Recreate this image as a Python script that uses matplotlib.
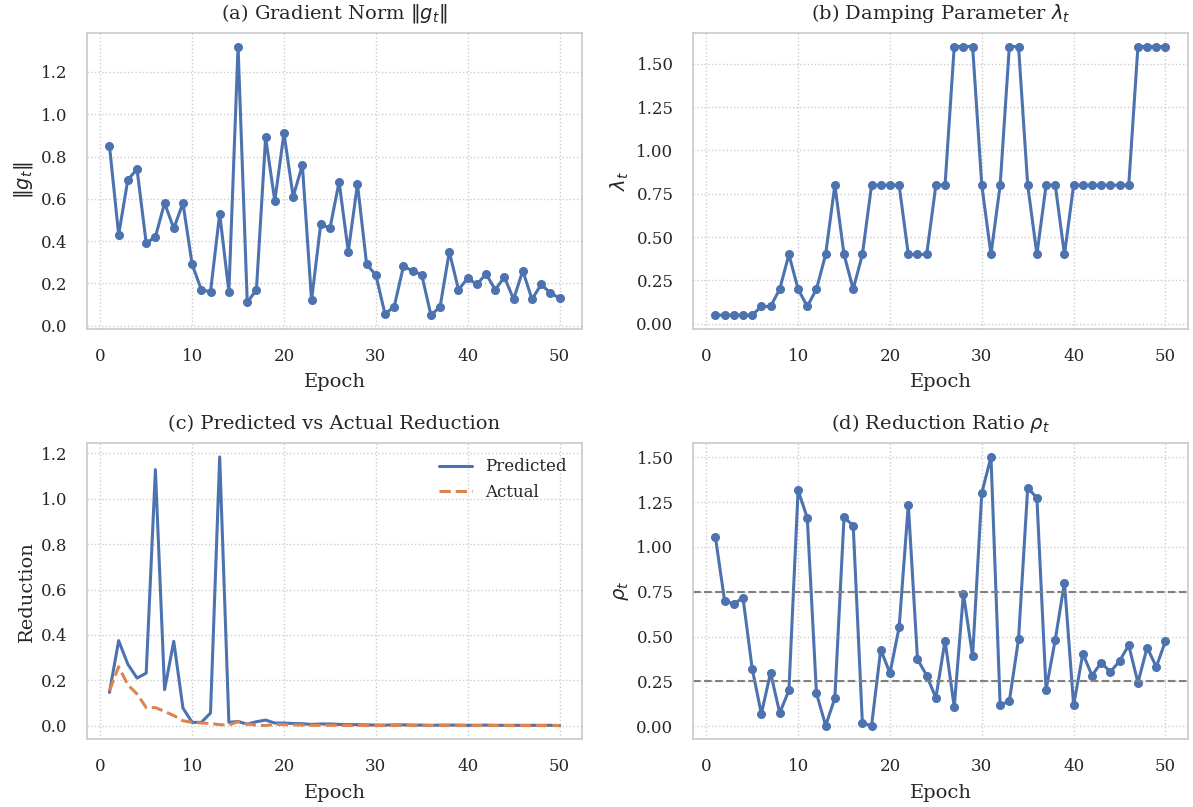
import matplotlib
matplotlib.use('Agg')
import matplotlib.pyplot as plt
import numpy as np
import seaborn as sns

epochs = np.arange(1, 51)

grad_norm = [0.85, 0.43, 0.69, 0.74, 0.39, 0.42, 0.58, 0.46, 0.58, 0.29,
             0.17, 0.16, 0.53, 0.16, 1.32, 0.11, 0.17, 0.89, 0.59, 0.91,
             0.61, 0.76, 0.12, 0.48, 0.46, 0.68, 0.35, 0.67, 0.29, 0.24,
             0.055, 0.09, 0.28, 0.26, 0.24, 0.05, 0.09, 0.35, 0.17, 0.225,
             0.195, 0.245, 0.17, 0.23, 0.125, 0.26, 0.125, 0.195, 0.155, 0.13]

damping = [0.05, 0.05, 0.05, 0.05, 0.05, 0.1, 0.1, 0.2, 0.4, 0.2,
           0.1, 0.2, 0.4, 0.8, 0.4, 0.2, 0.4, 0.8, 0.8, 0.8,
           0.8, 0.4, 0.4, 0.4, 0.8, 0.8, 1.6, 1.6, 1.6, 0.8,
           0.4, 0.8, 1.6, 1.6, 0.8, 0.4, 0.8, 0.8, 0.4, 0.8,
           0.8, 0.8, 0.8, 0.8, 0.8, 0.8, 1.6, 1.6, 1.6, 1.6]

predicted = [0.147, 0.375, 0.271, 0.21, 0.232, 1.128, 0.159, 0.372, 0.078, 0.015,
             0.015, 0.056, 1.184, 0.015, 0.019, 0.007, 0.018, 0.025, 0.012, 0.012,
             0.01, 0.009, 0.006, 0.008, 0.008, 0.006, 0.005, 0.005, 0.004, 0.003,
             0.003, 0.004, 0.004, 0.003, 0.003, 0.002, 0.003, 0.003, 0.003, 0.002,
             0.002, 0.003, 0.002, 0.002, 0.002, 0.002, 0.002, 0.002, 0.002, 0.001]

actual = [0.154, 0.26, 0.18, 0.14, 0.08, 0.08, 0.063, 0.045, 0.022, 0.015,
          0.012, 0.01, 0.005, 0.003, 0.018, 0.008, 0.003, 0.001, 0.006, 0.005,
          0.004, 0.003, 0.002, 0.002, 0.002, 0.002, 0.001, 0.002, 0.001, 0.001,
          0.001, 0.001, 0.002, 0.001, 0.001, 0.001, 0.001, 0.001, 0.001, 0.001,
          0.001, 0.001, 0.001, 0.001, 0.001, 0.001, 0.001, 0.001, 0.001, 0.001]

ratio = [1.054, 0.70, 0.682, 0.717, 0.322, 0.069, 0.299, 0.074, 0.20, 1.316,
         1.162, 0.184, 0.004, 0.156, 1.165, 1.119, 0.017, 0.004, 0.428, 0.296,
         0.552, 1.236, 0.374, 0.283, 0.158, 0.478, 0.108, 0.740, 0.39, 1.301,
         1.502, 0.117, 0.141, 0.485, 1.331, 1.273, 0.204, 0.483, 0.801, 0.117,
         0.405, 0.283, 0.355, 0.303, 0.364, 0.452, 0.243, 0.439, 0.331, 0.476]

sns.set_theme(style='whitegrid')
plt.rcParams['font.family'] = ['DejaVu Serif']
plt.rcParams['grid.linestyle'] = ':'
plt.rcParams['grid.color'] = '#cccccc'
plt.rcParams['axes.edgecolor'] = '#cccccc'

blue = '#4C72B0'
orange = '#DD8452'
fs = 14
tick_pad = plt.rcParams['xtick.major.pad'] + 4.5

fig, axes = plt.subplots(2, 2, figsize=(11.93, 8.07), dpi=100)
ax1, ax2, ax3, ax4 = axes.flatten()

ax1.plot(epochs, grad_norm, color=blue, lw=2.2, marker='o', markersize=5.5)
ax1.set_title(r'(a) Gradient Norm $\|g_t\|$', fontsize=fs, pad=10.5)
ax1.set_ylabel(r'$\|g_t\|$', fontsize=fs)

ax2.plot(epochs, damping, color=blue, lw=2.2, marker='o', markersize=5.5)
ax2.set_title(r'(b) Damping Parameter $\lambda_t$', fontsize=fs, pad=10.5)
ax2.set_ylabel(r'$\lambda_t$', fontsize=fs)

ax3.plot(epochs, predicted, color=blue, lw=2.2, label='Predicted')
ax3.plot(epochs, actual, color=orange, lw=2.2, ls='--', label='Actual')
ax3.set_title('(c) Predicted vs Actual Reduction', fontsize=fs, pad=10.5)
ax3.set_ylabel('Reduction', fontsize=fs)
ax3.legend(loc='upper right', frameon=False, fontsize=12)

ax4.plot(epochs, ratio, color=blue, lw=2.2, marker='o', markersize=5.5)
ax4.axhline(0.75, color='gray', ls='--', lw=1.5)
ax4.axhline(0.25, color='gray', ls='--', lw=1.5)
ax4.set_title(r'(d) Reduction Ratio $\rho_t$', fontsize=fs, pad=10.5)
ax4.set_ylabel(r'$\rho_t$', fontsize=fs)

ax1.set_yticks(np.arange(0, 1.21, 0.2))
ax3.set_yticks(np.arange(0, 1.21, 0.2))
ax2.set_yticks(np.arange(0, 1.51, 0.25))
ax4.set_yticks(np.arange(0, 1.51, 0.25))

for ax in axes.flatten():
    ax.set_xlabel('Epoch', fontsize=fs, labelpad=6)
    ax.set_xticks([0, 10, 20, 30, 40, 50])
    ax.tick_params(labelsize=12, pad=tick_pad)

plt.subplots_adjust(left=0.0729, right=0.9958, top=0.959, bottom=0.0843,
                    wspace=0.224, hspace=0.389)
plt.savefig('out.png')
